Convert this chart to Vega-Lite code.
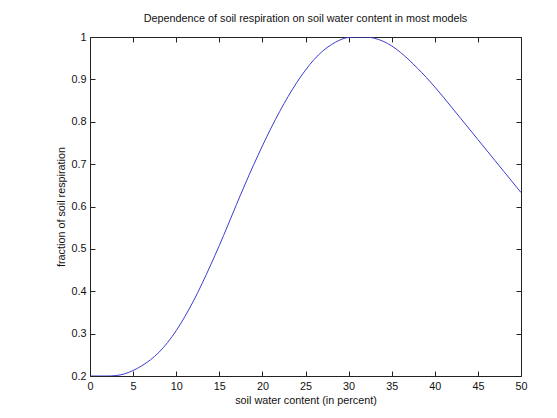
{
  "$schema": "https://vega.github.io/schema/vega-lite/v6.json",
  "width": 431,
  "height": 339,
  "autosize": {"type": "none"},
  "padding": {"left": 90, "top": 37, "right": 36, "bottom": 42},
  "background": "white",
  "title": {
    "text": "Dependence of soil respiration on soil water content in most models",
    "font": "Liberation Sans",
    "fontSize": 10.8,
    "fontWeight": "normal",
    "color": "#111111",
    "offset": 7,
    "frame": "group",
    "anchor": "middle"
  },
  "config": {
    "view": {"stroke": null},
    "axis": {
      "grid": false,
      "domainColor": "#222222",
      "tickColor": "#222222",
      "labelColor": "#111111",
      "titleColor": "#111111",
      "labelFont": "Liberation Sans",
      "titleFont": "Liberation Sans",
      "labelFontSize": 10.8,
      "titleFontSize": 10.8,
      "titleFontWeight": "normal",
      "labelFlush": false,
      "labelOverlap": false,
      "labelBound": false,
      "tickSize": -5,
      "labelPadding": 9
    }
  },
  "data": {
    "values": [
      {"swc": 0, "resp": 0.2},
      {"swc": 1, "resp": 0.2},
      {"swc": 2, "resp": 0.2},
      {"swc": 3, "resp": 0.201},
      {"swc": 4, "resp": 0.205},
      {"swc": 5, "resp": 0.213},
      {"swc": 6, "resp": 0.224},
      {"swc": 7, "resp": 0.238},
      {"swc": 8, "resp": 0.256},
      {"swc": 9, "resp": 0.279},
      {"swc": 10, "resp": 0.307},
      {"swc": 11, "resp": 0.34},
      {"swc": 12, "resp": 0.377},
      {"swc": 13, "resp": 0.418},
      {"swc": 14, "resp": 0.462},
      {"swc": 15, "resp": 0.508},
      {"swc": 16, "resp": 0.556},
      {"swc": 17, "resp": 0.605},
      {"swc": 18, "resp": 0.653},
      {"swc": 19, "resp": 0.699},
      {"swc": 20, "resp": 0.743},
      {"swc": 21, "resp": 0.785},
      {"swc": 22, "resp": 0.824},
      {"swc": 23, "resp": 0.86},
      {"swc": 24, "resp": 0.893},
      {"swc": 25, "resp": 0.922},
      {"swc": 26, "resp": 0.947},
      {"swc": 27, "resp": 0.967},
      {"swc": 28, "resp": 0.982},
      {"swc": 29, "resp": 0.993},
      {"swc": 30, "resp": 0.999},
      {"swc": 31, "resp": 1.0},
      {"swc": 32, "resp": 1.0},
      {"swc": 33, "resp": 0.997},
      {"swc": 34, "resp": 0.99},
      {"swc": 35, "resp": 0.979},
      {"swc": 36, "resp": 0.964},
      {"swc": 37, "resp": 0.946},
      {"swc": 38, "resp": 0.926},
      {"swc": 39, "resp": 0.905},
      {"swc": 40, "resp": 0.882},
      {"swc": 41, "resp": 0.858},
      {"swc": 42, "resp": 0.833},
      {"swc": 43, "resp": 0.808},
      {"swc": 44, "resp": 0.783},
      {"swc": 45, "resp": 0.758},
      {"swc": 46, "resp": 0.733},
      {"swc": 47, "resp": 0.708},
      {"swc": 48, "resp": 0.683},
      {"swc": 49, "resp": 0.658},
      {"swc": 50, "resp": 0.633}
    ]
  },
  "layer": [
    {
      "mark": {"type": "line", "color": "#3c3cd0", "strokeWidth": 1, "interpolate": "monotone", "clip": true},
      "encoding": {
        "x": {
          "field": "swc",
          "type": "quantitative",
          "scale": {"domain": [0, 50], "nice": false, "zero": false},
          "axis": {
            "orient": "bottom",
            "values": [0, 5, 10, 15, 20, 25, 30, 35, 40, 45, 50],
            "title": "soil water content (in percent)",
            "titlePadding": 4
          }
        },
        "y": {
          "field": "resp",
          "type": "quantitative",
          "scale": {"domain": [0.2, 1], "nice": false, "zero": false},
          "axis": {
            "orient": "left",
            "values": [0.2, 0.3, 0.4, 0.5, 0.6, 0.7, 0.8, 0.9, 1],
            "format": "~g",
            "title": "fraction of soil respiration",
            "titlePadding": 4
          }
        }
      }
    },
    {
      "mark": {"type": "line", "opacity": 0},
      "encoding": {
        "x": {
          "field": "swc",
          "type": "quantitative",
          "axis": {
            "orient": "top",
            "values": [0, 5, 10, 15, 20, 25, 30, 35, 40, 45, 50],
            "labels": false,
            "title": null
          }
        },
        "y": {
          "field": "resp",
          "type": "quantitative",
          "axis": {
            "orient": "right",
            "values": [0.2, 0.3, 0.4, 0.5, 0.6, 0.7, 0.8, 0.9, 1],
            "labels": false,
            "title": null
          }
        }
      }
    }
  ]
}
